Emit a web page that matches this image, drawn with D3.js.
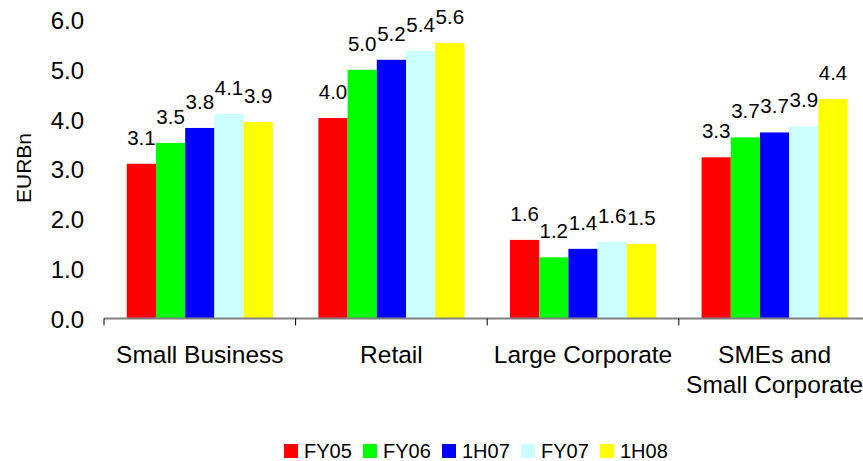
<!DOCTYPE html>
<html>
<head>
<meta charset="utf-8">
<script src="https://cdn.jsdelivr.net/npm/d3@7"></script>
<style>
html, body { margin: 0; padding: 0; background: #fff; }
svg { display: block; font-family: "Liberation Sans", Arial, sans-serif; }
</style>
</head>
<body>
<svg id="chart" width="863" height="461"></svg>
<script>
const categories = [["Small Business"], ["Retail"], ["Large Corporate"], ["SMEs and", "Small Corporate"]];
const series = ["FY05", "FY06", "1H07", "FY07", "1H08"];
const colors = ["#FF0000", "#00FF00", "#0000FF", "#CCFFFF", "#FFFF00"];
const values = [
  [3.11, 3.53, 3.83, 4.11, 3.95],
  [4.03, 5.00, 5.20, 5.38, 5.54],
  [1.58, 1.23, 1.40, 1.54, 1.50],
  [3.24, 3.64, 3.74, 3.86, 4.41]
];
const labels = [
  ["3.1", "3.5", "3.8", "4.1", "3.9"],
  ["4.0", "5.0", "5.2", "5.4", "5.6"],
  ["1.6", "1.2", "1.4", "1.6", "1.5"],
  ["3.3", "3.7", "3.7", "3.9", "4.4"]
];
const yTicks = [0, 1, 2, 3, 4, 5, 6];

const svg = d3.select("#chart");
const catIdx = d3.range(categories.length);

const x0 = d3.scaleBand().domain(catIdx).range([104, 870.4]).padding(0);
const x1 = d3.scaleBand().domain(d3.range(series.length)).range([0, x0.bandwidth()]).paddingInner(0).paddingOuter(0.78);
const y = d3.scaleLinear().domain([0, 6]).range([318.5, 20]);

// y axis labels (no line)
const yAxis = d3.axisLeft(y).tickValues(yTicks).tickFormat(d3.format(".1f")).tickSize(0).tickPadding(0);
const gy = svg.append("g").attr("transform", "translate(84,0)").call(yAxis);
gy.select(".domain").remove();
gy.selectAll("text").attr("font-size", 24).attr("fill", "#000").attr("font-family", "Liberation Sans, Arial, sans-serif").attr("dy", "0.36em");

// y title
svg.append("text")
  .attr("transform", "translate(31,168) rotate(-90)")
  .attr("text-anchor", "middle")
  .attr("font-size", 21)
  .attr("fill", "#000")
  .text("EURBn");

// bars
const groups = svg.append("g").selectAll("g").data(catIdx).join("g")
  .attr("transform", c => `translate(${x0(c)},0)`);

groups.selectAll("rect").data(c => values[c].map((v, s) => ({ c, s, v }))).join("rect")
  .attr("x", d => x1(d.s))
  .attr("width", x1.bandwidth())
  .attr("y", d => y(d.v))
  .attr("height", d => y(0) - y(d.v))
  .attr("fill", d => colors[d.s]);

groups.selectAll("text.val").data(c => values[c].map((v, s) => ({ c, s, v }))).join("text")
  .attr("class", "val")
  .attr("x", d => x1(d.s) + x1.bandwidth() / 2)
  .attr("y", d => y(d.v) - 19)
  .attr("text-anchor", "middle")
  .attr("font-size", 20.5)
  .attr("fill", "#000")
  .text(d => labels[d.c][d.s]);

// x axis
const gx = svg.append("g").attr("transform", `translate(0,${y(0)})`);
gx.append("line").attr("x1", 104).attr("x2", 870.4).attr("y1", 0).attr("y2", 0)
  .attr("stroke", "#808080").attr("stroke-width", 2);
gx.selectAll("line.tick").data(catIdx).join("line")
  .attr("class", "tick")
  .attr("x1", c => x0(c)).attr("x2", c => x0(c))
  .attr("y1", 0).attr("y2", 7)
  .attr("stroke", "#000").attr("stroke-width", 1);

// category labels
svg.append("g").selectAll("text").data(catIdx).join("text")
  .attr("x", c => x0(c) + x0.bandwidth() / 2)
  .attr("y", 363)
  .attr("text-anchor", "middle")
  .attr("font-size", 24.5)
  .attr("fill", "#000")
  .each(function (c) {
    const t = d3.select(this);
    categories[c].forEach((line, i) => {
      t.append("tspan").attr("x", x0(c) + x0.bandwidth() / 2).attr("dy", i === 0 ? 0 : 30).text(line);
    });
  });

// legend
const legendX = d3.scaleBand().domain(d3.range(series.length)).range([284, 679]);
const lg = svg.append("g").selectAll("g").data(d3.range(series.length)).join("g")
  .attr("transform", s => `translate(${legendX(s)},451)`);
lg.append("rect").attr("x", 0).attr("y", -7).attr("width", 14).attr("height", 14)
  .attr("fill", s => colors[s]);
lg.append("text").attr("x", 20).attr("y", 0).attr("dy", "0.36em")
  .attr("font-size", 20).attr("fill", "#000")
  .text(s => series[s]);
</script>
</body>
</html>
